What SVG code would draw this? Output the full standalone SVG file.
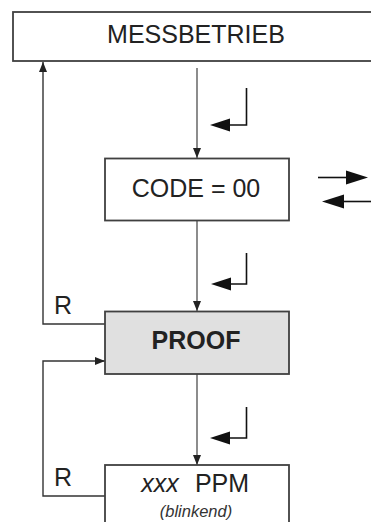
<svg xmlns="http://www.w3.org/2000/svg" width="371" height="522" viewBox="0 0 371 522">
  <style>
    .box { fill: #ffffff; stroke: #404040; stroke-width: 1.8; }
    .box.hl { fill: #e0e0e0; }
    .lbl { font-family: "Liberation Sans", Arial, sans-serif; font-size: 25px; fill: #222; text-anchor: middle; }
    .note { font-family: "Liberation Sans", Arial, sans-serif; font-size: 16.5px; font-style: italic; fill: #333; text-anchor: middle; }
    .flow { fill: none; stroke: #707070; stroke-width: 1.6; }
    .side { fill: none; stroke: #333; stroke-width: 1.4; }
    .key { fill: none; stroke: #111; stroke-width: 1.6; }
    .head { fill: #111; }
  </style>
  <defs>
    <marker id="tip" viewBox="0 0 10 8" refX="10" refY="4" markerWidth="10" markerHeight="8" markerUnits="userSpaceOnUse" orient="auto">
      <path d="M0,0 L10,4 L0,8 Z" fill="#222"/>
    </marker>
  </defs>

  <rect width="371" height="522" fill="#ffffff"/>

  <!-- connectors -->
  <g id="connectors">
    <!-- main flow down the middle -->
    <line class="flow" x1="197" y1="68" x2="197" y2="158" marker-end="url(#tip)"/>
    <line class="flow" x1="197" y1="220" x2="197" y2="311" marker-end="url(#tip)"/>
    <line class="flow" x1="197" y1="374" x2="197" y2="465" marker-end="url(#tip)"/>
    <!-- R: back to measuring mode -->
    <polyline class="side" points="105,324 43,324 43,62" marker-end="url(#tip)"/>
    <!-- R: back to PROOF -->
    <polyline class="side" points="105,496 43,496 43,361 105,361" marker-end="url(#tip)"/>
  </g>

  <!-- enter-key symbols -->
  <g id="enter-keys">
    <polyline class="key" points="246.5,88 246.5,125 228,125"/>
    <path class="head" d="M210,125 L230,118.5 L230,131.5 Z"/>
    <polyline class="key" points="246.5,253 246.5,284 228,284"/>
    <path class="head" d="M211,284 L231,277.5 L231,290.5 Z"/>
    <polyline class="key" points="246.5,407 246.5,438 228,438"/>
    <path class="head" d="M210,438 L230,431.5 L230,444.5 Z"/>
  </g>

  <!-- up/down arrow keys -->
  <g id="arrow-keys">
    <line class="key" x1="318" y1="177.5" x2="348" y2="177.5" stroke-width="2.2"/>
    <path class="head" d="M368,177.5 L346,170.5 L346,184.5 Z"/>
    <line class="key" x1="342" y1="201.5" x2="371" y2="201.5" stroke-width="2.2"/>
    <path class="head" d="M322,201.5 L344,194.5 L344,208.5 Z"/>
  </g>

  <g id="node-messbetrieb">
    <rect class="box" x="13" y="12" width="370" height="49"/>
    <text class="lbl" x="196" y="43">MESSBETRIEB</text>
  </g>

  <g id="node-code">
    <rect class="box" x="105" y="158.5" width="184" height="62"/>
    <text class="lbl" x="196" y="197">CODE = 00</text>
  </g>

  <g id="node-proof">
    <rect class="box hl" x="105" y="311.5" width="184" height="62.5"/>
    <text class="lbl" x="196" y="349" font-weight="bold">PROOF</text>
  </g>

  <g id="node-ppm">
    <rect class="box" x="105" y="465" width="184" height="70"/>
    <text class="lbl" x="160" y="492" font-style="italic">xxx</text>
    <text class="lbl" x="222" y="492">PPM</text>
    <text class="note" x="196" y="517">(blinkend)</text>
  </g>

  <g id="labels">
    <text class="lbl" x="63" y="314">R</text>
    <text class="lbl" x="63" y="486">R</text>
  </g>
</svg>
